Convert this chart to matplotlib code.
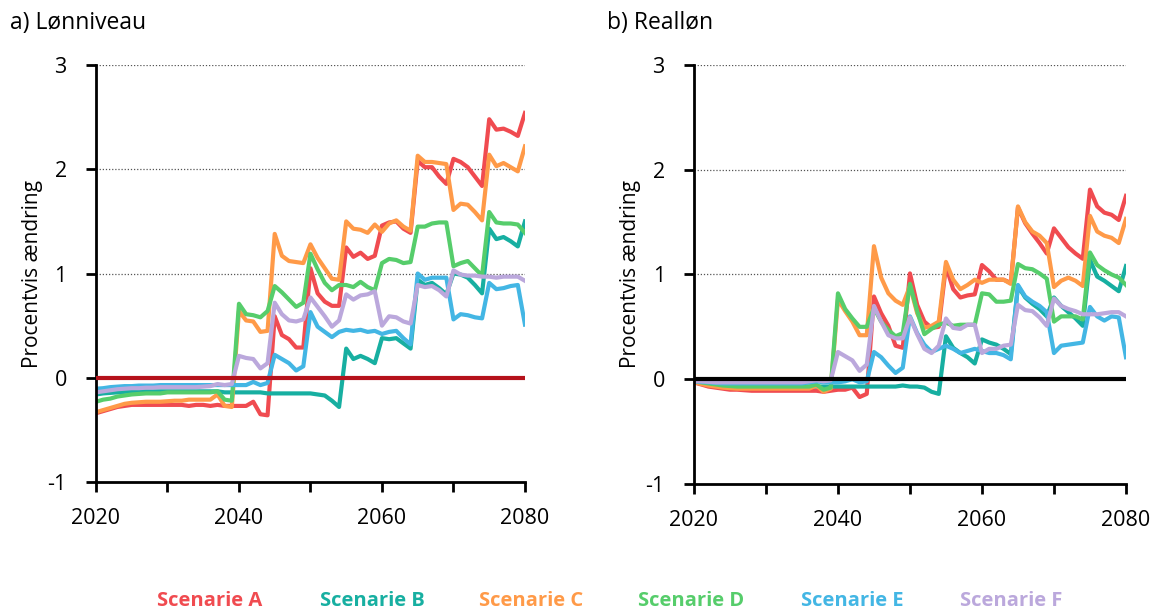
import matplotlib
matplotlib.use('Agg')
import matplotlib.pyplot as plt

plt.rcParams['font.family'] = ['Open Sans', 'DejaVu Sans']

# Data
years = list(range(2020, 2081))
scenarios = ['Scenarie A', 'Scenarie B', 'Scenarie C', 'Scenarie D', 'Scenarie E', 'Scenarie F']
colors = ['#F04B50', '#17AFA1', '#FF9A48', '#56CD6B', '#43B6E4', '#BBA8DC']

# a) Lønniveau
lon_a = [-0.34, -0.32, -0.30, -0.28, -0.27, -0.26, -0.26, -0.26, -0.26, -0.26,
         -0.26, -0.26, -0.26, -0.27, -0.26, -0.26, -0.27, -0.26, -0.27, -0.27,
         -0.27, -0.27, -0.23, -0.35, -0.36,
         0.59, 0.41, 0.37, 0.29, 0.29,
         1.05, 0.81, 0.73, 0.69, 0.69,
         1.25, 1.16, 1.20, 1.14, 1.17,
         1.46, 1.49, 1.50, 1.43, 1.39,
         2.08, 2.02, 2.02, 1.93, 1.86,
         2.10, 2.07, 2.02, 1.93, 1.84,
         2.48, 2.38, 2.39, 2.36, 2.32,
         2.54]
lon_b = [-0.16, -0.15, -0.145, -0.14, -0.135, -0.13, -0.13, -0.13, -0.13, -0.13,
         -0.13, -0.13, -0.13, -0.13, -0.13, -0.13, -0.13, -0.13, -0.14, -0.14,
         -0.14, -0.14, -0.14, -0.14, -0.15,
         -0.15, -0.15, -0.15, -0.15, -0.15,
         -0.15, -0.16, -0.17, -0.22, -0.28,
         0.28, 0.18, 0.21, 0.18, 0.14,
         0.38, 0.37, 0.38, 0.33, 0.28,
         0.94, 0.89, 0.91, 0.86, 0.80,
         1.00, 0.99, 0.96, 0.89, 0.81,
         1.43, 1.33, 1.35, 1.31, 1.26,
         1.50]
lon_c = [-0.33, -0.31, -0.29, -0.27, -0.25, -0.24, -0.235, -0.23, -0.23, -0.23,
         -0.225, -0.22, -0.22, -0.21, -0.21, -0.21, -0.21, -0.16, -0.27, -0.28,
         0.64, 0.55, 0.54, 0.44, 0.45,
         1.38, 1.17, 1.12, 1.11, 1.10,
         1.28, 1.15, 1.05, 0.95, 0.94,
         1.50, 1.43, 1.42, 1.39, 1.47,
         1.40, 1.48, 1.51, 1.45, 1.41,
         2.13, 2.07, 2.07, 2.06, 2.05,
         1.61, 1.67, 1.66, 1.59, 1.51,
         2.14, 2.03, 2.06, 2.02, 1.98,
         2.22]
lon_d = [-0.23, -0.21, -0.20, -0.18, -0.17, -0.16, -0.155, -0.15, -0.15, -0.15,
         -0.14, -0.14, -0.14, -0.14, -0.14, -0.14, -0.14, -0.13, -0.21, -0.22,
         0.71, 0.61, 0.60, 0.58, 0.64,
         0.88, 0.82, 0.75, 0.68, 0.72,
         1.19, 1.04, 0.91, 0.84, 0.89,
         0.89, 0.87, 0.92, 0.87, 0.84,
         1.10, 1.14, 1.13, 1.10, 1.11,
         1.45, 1.45, 1.48, 1.49, 1.49,
         1.07, 1.10, 1.12, 1.05, 0.98,
         1.59, 1.49, 1.48, 1.48, 1.47,
         1.39]
lon_e = [-0.105, -0.10, -0.09, -0.085, -0.08, -0.08, -0.075, -0.075, -0.075, -0.07,
         -0.07, -0.07, -0.07, -0.07, -0.07, -0.07, -0.07, -0.07, -0.07, -0.07,
         -0.07, -0.07, -0.04, -0.07, -0.05,
         0.22, 0.18, 0.14, 0.07, 0.11,
         0.63, 0.49, 0.44, 0.39, 0.44,
         0.46, 0.45, 0.46, 0.44, 0.45,
         0.42, 0.44, 0.45, 0.38, 0.32,
         1.00, 0.94, 0.96, 0.96, 0.96,
         0.56, 0.61, 0.60, 0.58, 0.57,
         0.91, 0.85, 0.86, 0.88, 0.89,
         0.51]
lon_f = [-0.14, -0.13, -0.12, -0.11, -0.105, -0.10, -0.10, -0.095, -0.095, -0.09,
         -0.09, -0.09, -0.09, -0.09, -0.09, -0.085, -0.08, -0.06, -0.07, -0.06,
         0.21, 0.19, 0.18, 0.09, 0.14,
         0.72, 0.61, 0.55, 0.54, 0.56,
         0.77, 0.68, 0.59, 0.49, 0.55,
         0.80, 0.75, 0.79, 0.80, 0.83,
         0.50, 0.59, 0.58, 0.54, 0.52,
         0.89, 0.87, 0.88, 0.84, 0.78,
         1.03, 0.99, 0.98, 0.98, 0.97,
         0.97, 0.96, 0.97, 0.97, 0.97,
         0.93]

# b) Realløn
real_a = [-0.03, -0.05, -0.07, -0.08, -0.09, -0.10, -0.10, -0.105, -0.11, -0.11,
          -0.11, -0.11, -0.11, -0.11, -0.11, -0.11, -0.11, -0.11, -0.12, -0.11,
          -0.10, -0.10, -0.08, -0.17, -0.14,
          0.79, 0.63, 0.51, 0.32, 0.30,
          1.01, 0.71, 0.55, 0.49, 0.50,
          1.08, 0.86, 0.78, 0.80, 0.81,
          1.09, 1.03, 0.95, 0.95, 0.92,
          1.64, 1.49, 1.39, 1.30, 1.20,
          1.44, 1.35, 1.26, 1.20, 1.15,
          1.81, 1.65, 1.59, 1.57, 1.52,
          1.75]
real_b = [-0.02, -0.03, -0.04, -0.05, -0.055, -0.06, -0.06, -0.065, -0.065, -0.07,
          -0.07, -0.07, -0.07, -0.07, -0.07, -0.07, -0.07, -0.07, -0.07, -0.07,
          -0.07, -0.07, -0.07, -0.07, -0.07,
          -0.07, -0.07, -0.07, -0.07, -0.06,
          -0.07, -0.07, -0.08, -0.12, -0.14,
          0.41, 0.30, 0.25, 0.21, 0.15,
          0.38, 0.35, 0.33, 0.29, 0.24,
          0.89, 0.78, 0.72, 0.67, 0.60,
          0.78, 0.70, 0.64, 0.58, 0.51,
          1.14, 0.98, 0.94, 0.89, 0.84,
          1.08]
real_c = [-0.03, -0.045, -0.06, -0.07, -0.08, -0.085, -0.09, -0.09, -0.09, -0.09,
          -0.09, -0.09, -0.09, -0.09, -0.09, -0.09, -0.09, -0.06, -0.12, -0.09,
          0.76, 0.65, 0.55, 0.42, 0.42,
          1.27, 0.97, 0.82, 0.75, 0.71,
          0.89, 0.63, 0.49, 0.51, 0.55,
          1.12, 0.95, 0.86, 0.90, 0.95,
          0.92, 0.95, 0.95, 0.95, 0.91,
          1.65, 1.50, 1.41, 1.37, 1.30,
          0.88, 0.94, 0.97, 0.94, 0.89,
          1.56, 1.41, 1.37, 1.35, 1.30,
          1.53]
real_d = [-0.02, -0.03, -0.04, -0.05, -0.06, -0.065, -0.07, -0.07, -0.07, -0.07,
          -0.07, -0.07, -0.07, -0.07, -0.07, -0.07, -0.07, -0.05, -0.10, -0.08,
          0.82, 0.67, 0.58, 0.50, 0.50,
          0.68, 0.55, 0.47, 0.41, 0.44,
          0.91, 0.65, 0.43, 0.48, 0.52,
          0.54, 0.51, 0.52, 0.52, 0.52,
          0.82, 0.81, 0.74, 0.74, 0.75,
          1.10, 1.06, 1.05, 1.01, 0.96,
          0.55, 0.60, 0.60, 0.60, 0.57,
          1.21, 1.09, 1.04, 1.00, 0.97,
          0.90]
real_e = [-0.02, -0.025, -0.03, -0.035, -0.04, -0.04, -0.04, -0.04, -0.04, -0.04,
          -0.04, -0.04, -0.04, -0.04, -0.04, -0.04, -0.03, -0.02, -0.03, -0.03,
          -0.03, -0.02, 0.00, -0.03, -0.02,
          0.26, 0.21, 0.13, 0.06, 0.11,
          0.60, 0.44, 0.33, 0.26, 0.29,
          0.32, 0.29, 0.25, 0.27, 0.29,
          0.27, 0.25, 0.25, 0.23, 0.19,
          0.90, 0.79, 0.74, 0.70, 0.64,
          0.25, 0.32, 0.33, 0.34, 0.35,
          0.69, 0.60, 0.56, 0.60, 0.59,
          0.21]
real_f = [-0.02, -0.02, -0.025, -0.03, -0.03, -0.03, -0.03, -0.03, -0.03, -0.03,
          -0.03, -0.03, -0.03, -0.03, -0.03, -0.03, -0.02, -0.01, -0.02, -0.01,
          0.26, 0.22, 0.18, 0.08, 0.14,
          0.70, 0.55, 0.42, 0.39, 0.39,
          0.59, 0.43, 0.29, 0.25, 0.32,
          0.58, 0.49, 0.48, 0.52, 0.52,
          0.25, 0.29, 0.29, 0.32, 0.33,
          0.71, 0.66, 0.65, 0.59, 0.51,
          0.77, 0.70, 0.67, 0.65, 0.62,
          0.62, 0.62, 0.63, 0.64, 0.64,
          0.60]

panels = [
    ('a) Lønniveau', [lon_a, lon_b, lon_c, lon_d, lon_e, lon_f], '#B5121B'),
    ('b) Realløn', [real_a, real_b, real_c, real_d, real_e, real_f], 'black'),
]

fig = plt.figure(figsize=(11.52, 6.10), dpi=100)
rects = [[0.0833, 0.2098, 0.3724, 0.6836], [0.6024, 0.2066, 0.375, 0.6869]]
title_x = [10 / 1152, 607 / 1152]

for i, (title, series, zero_color) in enumerate(panels):
    ax = fig.add_axes(rects[i])
    for vals, name, c in zip(series, scenarios, colors):
        ax.plot(years, vals, color=c, lw=3, label=name, solid_joinstyle='round')
    ax.axhline(0, color=zero_color, lw=3, zorder=5)
    for g in [1, 2, 3]:
        ax.axhline(g, color='#555555', lw=0.9, ls=(0, (1, 1.5)), zorder=0)

    ax.set_xlim(2020, 2080)
    ax.set_ylim(-1, 3)
    ax.set_xticks(range(2020, 2081, 10))
    ax.set_xticklabels([str(y) if (y - 2020) % 20 == 0 else '' for y in range(2020, 2081, 10)])
    ax.set_yticks([-1, 0, 1, 2, 3])
    ax.set_yticklabels(['-1', '0', '1', '2', '3'])
    ax.tick_params(axis='both', labelsize=15.5, width=2, length=7, color='black', pad=12)
    ax.tick_params(axis='y', pad=14)
    for side in ['top', 'right']:
        ax.spines[side].set_visible(False)
    for side in ['left', 'bottom']:
        ax.spines[side].set_linewidth(2)
    ax.set_ylabel('Procentvis ændring', fontsize=15, labelpad=3)
    fig.text(title_x[i], 0.962, title, fontsize=16.5, ha='left', va='center')

# Legend as coloured text
legend_x = [210, 372, 531, 691, 852, 1011]
for name, c, x in zip(scenarios, colors, legend_x):
    fig.text(x / 1152, 1 - 601 / 610, name, color=c, fontsize=14.5, fontweight='bold',
             ha='center', va='center')

fig.savefig('out.png', dpi=100)
